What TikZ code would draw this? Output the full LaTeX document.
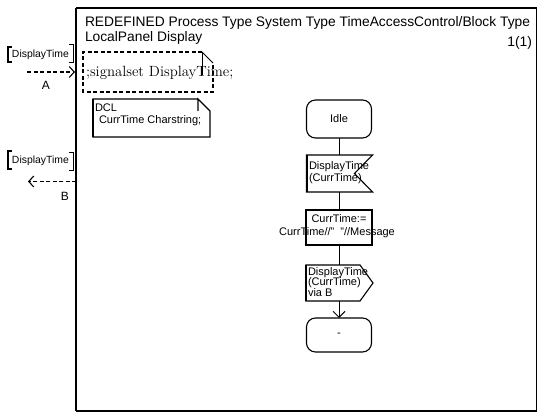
\documentclass[tikz,border=0pt]{standalone}
\usepackage{fontspec}
\setsansfont{Liberation Sans}
\usetikzlibrary{arrows.meta,calc}
\begin{document}
\begin{tikzpicture}[x=1pt,y=-1pt,
  every node/.style={inner sep=0pt, outer sep=0pt},
  txt/.style={font=\sffamily\fontsize{11}{13}\selectfont},
  chtxt/.style={font=\sffamily\fontsize{10.4}{12}\selectfont},
  hdr/.style={font=\sffamily\fontsize{13.8}{16}\selectfont},
  symline/.style={line width=1.1pt},
  dsh/.style={line width=1.2pt, dash pattern=on 4pt off 2.5pt},
  statebox/.style={draw, line width=1.1pt, rounded corners=9pt, minimum width=65pt, minimum height=36pt, txt},
  taskbox/.style={draw, line width=1.1pt, minimum width=66pt, minimum height=35pt},
  hold/.style={minimum width=#1, minimum height=36pt},
  barb/.style={-{Straight Barb[length=5pt,width=11pt,line width=1.1pt]}},
]
\useasboundingbox (0,0) rectangle (545,419);

% frame
\node[anchor=north west, minimum width=460pt, minimum height=403pt] (frame) at (76,8) {};
\draw[line width=1pt] (frame.north west) rectangle (frame.south east);
\draw[line width=2.2pt] (frame.north west) -- (frame.south west);
\draw[line width=1.6pt] (frame.north west) -- (frame.north east);
\draw[line width=1.6pt] (frame.south west) -- (frame.south east);

% header
\node[hdr, anchor=base west] (title1) at (85,26.5) {REDEFINED Process Type System Type TimeAccessControl/Block Type};
\node[hdr, anchor=base west] (title2) at (85,41.5) {LocalPanel Display};
\node[hdr, anchor=base east] (page) at (532,47) {1(1)};

% signal set text symbol (dashed)
\coordinate (ssNW) at (83,52);
\coordinate (ssSE) at (213,92);
\draw[dsh] (202,52) -- (ssNW) -- (83,92) -- (ssSE) -- (213,63);
\draw[line width=1pt] (202,52) -- (213,63);
\draw[line width=1pt] (202,52) -- (202,75);
\node[anchor=base west, font=\rmfamily\fontsize{14.8}{16}\selectfont] (sigset) at (86,77) {;signalset DisplayTime;};

% DCL note
\draw[symline] (198,99) -- (93,99) -- (93,137) -- (210,137) -- (210,111) -- (198,99) -- (198,111);
\draw[line width=2pt] (93,99) -- (93,137);
\node[txt, anchor=base west] (dcl1) at (95,112) {DCL};
\node[txt, anchor=base west] (dcl2) at (99,124) {CurrTime Charstring;};

% channel A
\draw[line width=1.6pt] (11.5,47) -- (8,47) -- (8,62) -- (11.5,62);
\node[chtxt, anchor=west] (lblA) at (12,54.5) {DisplayTime};
\draw[line width=1pt] (69,45) -- (73,45) -- (73,63) -- (69,63);
\coordinate (aStart) at (27,72);
\coordinate (aEnd) at (75,72);
\draw[dsh, barb] (aStart) -- (aEnd);
\node[font=\sffamily\fontsize{12}{14}\selectfont] (chA) at (46,85) {A};

% channel B
\draw[line width=1.6pt] (11.5,151) -- (8,151) -- (8,169) -- (11.5,169);
\node[chtxt, anchor=west] (lblB) at (12,160.5) {DisplayTime};
\draw[line width=1pt] (69,153) -- (73,153) -- (73,171) -- (69,171);
\coordinate (bStart) at (76,181.5);
\coordinate (bEnd) at (28,181.5);
\draw[dsh, barb] (bStart) -- (bEnd);
\node[font=\sffamily\fontsize{12}{14}\selectfont] (chB) at (65,196) {B};

% process graph
\node[statebox, minimum height=38pt] (idle) at (339,119) {Idle};

\node[hold=66pt, minimum height=37pt] (in) at (339.5,173.5) {};
\draw[symline] (in.north west) -- (in.north east) -- ($(in.east)+(-18,0)$) -- (in.south east) -- (in.south west) -- cycle;
\draw[line width=2pt] (in.north west) -- (in.south west);
\node[txt, anchor=base west] (in1) at (309,170) {DisplayTime};
\node[txt, anchor=base west] (in2) at (309,182) {(CurrTime)};

\node[taskbox] (task) at (339,227.5) {};
\draw[line width=2pt] (task.north west) -- (task.south west);
\node[txt, anchor=base] (t1) at (339,223) {CurrTime:=};
\node[txt, anchor=base] (t2) at (337,236) {CurrTime//"\ \ "//Message};

\node[hold=67pt] (out) at (339.5,283) {};
\draw[symline] (out.north west) -- ($(out.north east)+(-13,0)$) -- (out.east) -- ($(out.south east)+(-13,0)$) -- (out.south west) -- cycle;
\draw[line width=2pt] (out.north west) -- (out.south west);
\node[txt, anchor=base west] (o1) at (308,275) {DisplayTime};
\node[txt, anchor=base west] (o2) at (308,285.5) {(CurrTime)};
\node[txt, anchor=base west] (o3) at (308,296) {via B};

\node[statebox, minimum height=34pt] (next) at (339,335) {-};

% connectors
\draw[line width=0.8pt] (idle.south) -- (idle.south |- in.north);
\draw[line width=0.8pt] (in.south -| task.north) -- (task.north);
\draw[line width=0.8pt] (task.south) -- (task.south |- out.north);
\draw[line width=0.8pt, -{Straight Barb[length=6pt,width=12pt,line width=1pt]}] (out.south -| next.north) -- (next.north);
\end{tikzpicture}
\end{document}
